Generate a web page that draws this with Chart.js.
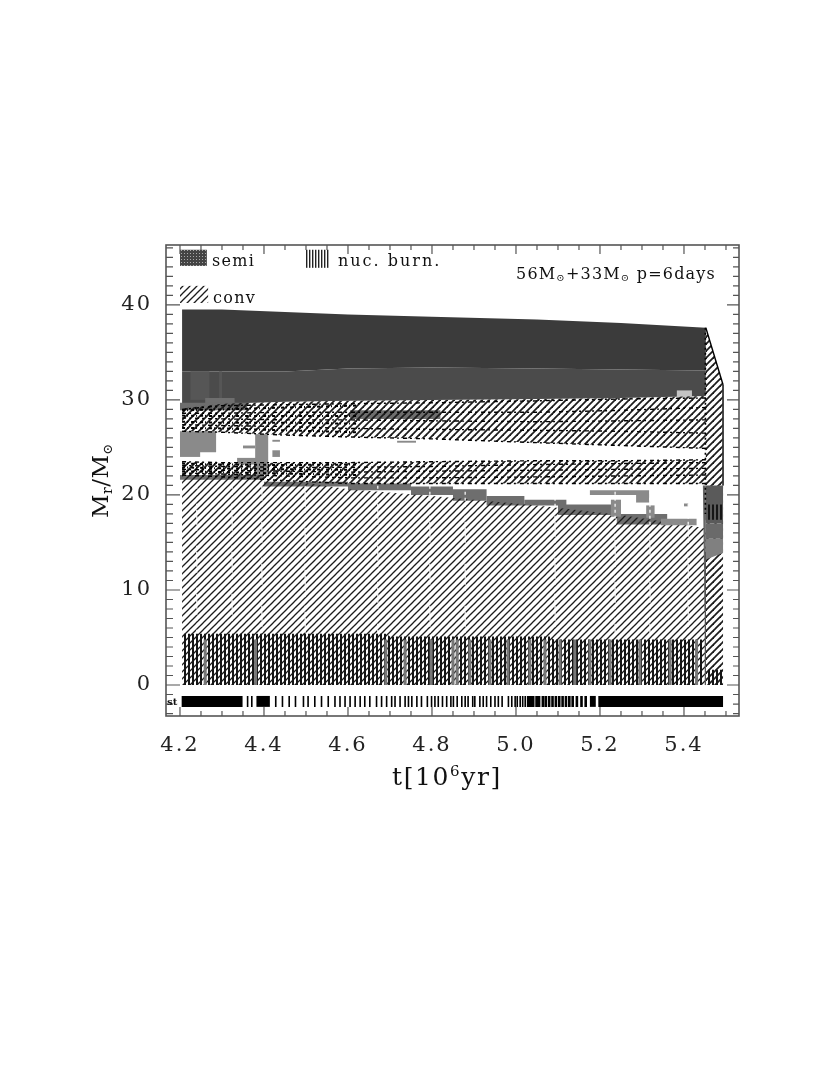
<!DOCTYPE html>
<html lang="en">
<head>
  <meta charset="UTF-8">
  <title>Kippenhahn diagram</title>
  <script src="https://cdn.jsdelivr.net/npm/chart.js"></script>
  <style>
    html, body { margin: 0; padding: 0; background: #fff; }
    canvas { display: block; }
  </style>
</head>
<body>
  <canvas id="grafico" width="830" height="1075"></canvas>

  <script>
    // axis
    const xTicks = [4.2, 4.4, 4.6, 4.8, 5.0, 5.2, 5.4];
    const yTicks = [0, 10, 20, 30, 40];
    const xRange = [4.1667, 5.531];
    const yRange = [-3.26, 46.3];

    // common time grid of the layer boundaries
    const bandTimes = [4.205, 4.30, 4.45, 4.60, 4.80, 5.05, 5.25, 5.452];
    const envelopeTop = [39.5, 39.5, 39.25, 39.0, 38.75, 38.45, 38.1, 37.6];
    const envelopeMid = [33.0, 33.0, 33.0, 33.3, 33.4, 33.3, 33.2, 33.1];
    const envelopeBottom = [29.1, 29.6, 29.8, 29.9, 30.0, 30.1, 30.2, 30.4];
    const upperBandBottom = [26.7, 26.6, 26.3, 26.1, 25.9, 25.5, 25.2, 24.9];
    const trackA = [29.0, 29.4, 29.5, 29.6, 29.7, 29.9, 30.1, 30.2];
    const trackB = [28.6, 28.6, 28.7, 28.7, 28.7, 28.7, 28.9, 29.2];
    const trackC = [28.1, 28.0, 27.9, 27.9, 27.8, 27.7, 27.8, 27.9];
    const trackD = [27.4, 27.3, 27.2, 27.0, 26.9, 26.8, 26.7, 26.5];
    const lowerBandTop = [23.5, 23.4, 23.4, 23.4, 23.5, 23.6, 23.6, 23.7];
    const trackF = [23.1, 23.0, 22.9, 22.9, 23.0, 23.2, 23.3, 23.4];
    const trackG = [22.7, 22.6, 22.5, 22.4, 22.5, 22.6, 22.7, 22.8];
    const trackH = [22.3, 22.2, 22.0, 21.8, 21.8, 21.9, 22.0, 22.1];
    const lowerBandBottom = [22.1, 21.9, 21.5, 21.2, 21.2, 21.2, 21.2, 21.2];
    const convTop = [22.2, 22.0, 21.6, 20.6, 19.9, 18.9, 17.9, 16.5];
    const coreFloor = [0, 0, 0, 0, 0, 0, 0, 0];

    // extra speckle on the left part of the bands
    const speckleTimes = [4.205, 4.30, 4.45, 4.62];
    const speckleUpper = [[28.9, 29.0, 29.2, 29.4], [28.35, 28.3, 28.3, 28.3], [27.7, 27.6, 27.6, 27.5], [27.05, 27.0, 26.8, 26.6]];
    const speckleLower = [[23.3, 23.2, 23.15, 23.2], [22.9, 22.8, 22.7, 22.65], [22.5, 22.4, 22.25, 22.1]];

    // nuclear burning
    const burnTimes = [4.205, 4.69, 4.70, 5.08, 5.09, 5.443];
    const burnTop = [5.4, 5.4, 5.1, 5.1, 4.8, 4.8];
    const burnColumns = [4.26, 4.38, 4.69, 4.736, 4.798, 4.85, 4.86, 4.89, 4.938, 4.981, 5.033, 5.069, 5.105, 5.14, 5.176, 5.224, 5.295, 5.367, 5.43];

    // last phase column
    const columnTimes = [5.452, 5.493, 5.493, 5.452];
    const columnHatch = [37.6, 31.6, 0, 0];
    const columnGrayTop = [21, 21, 17, 17];
    const columnGrayMid = [17, 17, 15.4, 15.4];
    const columnGrayLow = [15.4, 15.4, 13.9, 13.2];
    const columnBurnLow = [1.6, 1.6, 0, 0];
    const columnBurnHigh = [19, 19, 17.4, 17.4];
    const stripTimes = [5.445, 5.452, 5.452, 5.449];
    const stripValues = [21, 21, 7.9, 7.9];

    // grey semi-convective patches, [t0, t1, m0, m1]
    const patchDark = [
      [4.26, 4.33, 29.5, 30.2], [4.2, 4.36, 28.9, 29.7], [4.605, 4.82, 28.0, 28.9], [4.2, 4.4, 21.6, 22.1],
      [4.4, 4.6, 20.9, 21.4], [4.6, 4.75, 20.5, 21.2], [4.75, 4.85, 20.0, 20.9], [4.85, 4.93, 19.4, 20.6],
      [4.93, 5.02, 18.9, 19.9], [5.02, 5.12, 18.9, 19.5], [5.1, 5.24, 17.9, 19.0], [5.24, 5.36, 16.9, 18.0]
    ];
    const patchLight = [
      [4.2, 4.286, 24.5, 26.7], [4.2, 4.248, 24.0, 24.6], [4.379, 4.41, 22.1, 26.4], [4.336, 4.383, 23.2, 23.9],
      [4.42, 4.438, 24.0, 24.7], [4.35, 4.379, 24.9, 25.2], [4.42, 4.438, 25.6, 25.8], [4.717, 4.762, 25.5, 25.7],
      [5.176, 5.317, 20.0, 20.5], [5.286, 5.317, 19.2, 20.3], [5.226, 5.25, 17.7, 19.5], [5.31, 5.33, 17.6, 18.9],
      [5.40, 5.41, 18.8, 19.1], [5.345, 5.43, 16.8, 17.5]
    ];
    const patchPale = [[5.383, 5.419, 30.2, 31.0]];
    const patchStreak = [[4.225, 4.27, 30, 33], [4.293, 4.3, 30, 33]];

    // convective hatch white gaps
    const gapTimes = [4.24, 4.324, 4.395, 4.498, 4.671, 4.795, 4.879, 5.093, 5.236, 5.319, 5.41];

    // time steps strip
    const stepRange = [-2.3, -1.15];
    const stepBlocks = [[4.204, 4.349], [4.382, 4.414], [5.176, 5.19], [5.196, 5.493]];
    const stepTimes = [4.361, 4.371, 4.428, 4.444, 4.46, 4.475, 4.494, 4.505, 4.521, 4.537, 4.553, 4.569, 4.581, 4.593,
      4.605, 4.617, 4.629, 4.64, 4.652, 4.668, 4.68, 4.692, 4.704, 4.712, 4.724, 4.736, 4.744, 4.752, 4.764, 4.775,
      4.789, 4.799, 4.807, 4.815, 4.825, 4.835, 4.845, 4.851, 4.86, 4.871, 4.879, 4.886, 4.897, 4.902, 4.914, 4.922,
      4.93, 4.94, 4.95, 4.958, 4.967, 4.982, 4.99, 4.998, 5.003, 5.01, 5.016, 5.022];
    const stepTimesWide = [5.029, 5.035, 5.041, 5.049, 5.055, 5.064, 5.071, 5.079, 5.087, 5.095, 5.103, 5.111, 5.119,
      5.127, 5.135, 5.145, 5.156, 5.166];

    // legend swatches, [t0, t1, m0, m1]
    const legendSemi = [4.2, 4.264, 44.1, 45.8];
    const legendBurn = [4.5, 4.557, 43.9, 45.8];
    const legendConv = [4.2, 4.267, 40.2, 42.0];

    function patron(size, dibuja) {
      const c = document.createElement('canvas');
      c.width = size;
      c.height = size;
      dibuja(c.getContext('2d'));
      return c.getContext('2d').createPattern(c, 'repeat');
    }

    function rayado(width) {
      return patron(7, g => {
        g.strokeStyle = '#1c1c1c';
        g.lineWidth = width;
        for (const d of [-7, 0, 7]) {
          g.beginPath();
          g.moveTo(d - 1, 8);
          g.lineTo(d + 8, -1);
          g.stroke();
        }
      });
    }
    const hatch = rayado(1.25);
    const hatchBold = rayado(1.8);
    const burnLines = patron(4, g => {
      g.fillStyle = '#151515';
      g.fillRect(0, 0, 2, 4);
    });
    const legendBurnLines = patron(3, g => {
      g.fillStyle = '#222';
      g.fillRect(0, 0, 1.4, 3);
    });
    const semiDots = patron(3, g => {
      g.fillStyle = '#444';
      g.fillRect(0, 0, 3, 3);
      g.fillStyle = '#aaa';
      g.fillRect(1, 1, 1, 1);
    });

    const puntos = (xs, ys) => xs.map((x, i) => ({ x, y: ys[i] }));
    const banda = (xs, hi, lo) => puntos(xs, hi).concat(puntos(xs, lo).reverse());
    const rect = r => [{ x: r[0], y: r[2] }, { x: r[1], y: r[2] }, { x: r[1], y: r[3] }, { x: r[0], y: r[3] }];
    const rects = list => list.flatMap(r => rect(r).concat({ x: r[0], y: NaN }));
    const verticales = (ts, lo, hi) => ts.flatMap(t => [{ x: t, y: lo }, { x: t, y: hi }, { x: t, y: NaN }]);

    const capas = [];
    function relleno(data, color) {
      capas.push({ data, backgroundColor: color, borderColor: 'transparent', borderWidth: 0, fill: 'shape', pointRadius: 0 });
    }
    function linea(data, color, width, dash) {
      capas.push({ data, borderColor: color, borderWidth: width, borderDash: dash || [], borderCapStyle: 'butt', fill: false, pointRadius: 0 });
    }

    // envelope
    relleno(banda(bandTimes, envelopeTop, envelopeMid), '#3b3b3b');
    relleno(banda(bandTimes, envelopeMid, envelopeBottom), '#4b4b4b');
    relleno(rects(patchStreak), '#565656');
    relleno(rects(patchDark), '#6e6e6e');
    relleno(rects(patchPale), '#c4c4c4');

    // convective zones
    relleno(banda(bandTimes, envelopeBottom, upperBandBottom), hatchBold);
    relleno(banda(bandTimes, lowerBandTop, lowerBandBottom), hatchBold);
    relleno(banda(bandTimes, convTop, coreFloor), hatch);
    relleno(puntos(columnTimes, columnHatch), hatchBold);
    relleno(rects(patchLight), '#8a8a8a');
    relleno(puntos(columnTimes, columnGrayTop), '#5a5a5a');
    relleno(puntos(columnTimes, columnGrayMid), '#6a6a6a');
    relleno(puntos(columnTimes, columnGrayLow), '#808080');
    relleno(puntos(stripTimes, stripValues), '#666');
    linea(verticales(gapTimes, 5.5, 21), '#fff', 1.2, [3, 3]);

    // burning
    relleno(puntos(burnTimes, burnTop).concat([{ x: 5.443, y: 0 }, { x: 4.205, y: 0 }]), burnLines);
    linea(verticales(burnColumns, 0, 4.8), '#777', 3);
    relleno(puntos(columnTimes, columnBurnLow), burnLines);
    relleno(puntos(columnTimes, columnBurnHigh), burnLines);

    // speckled layer edges
    for (const track of [trackA, trackB, trackC, trackD, upperBandBottom, lowerBandTop, trackF, trackG, trackH, lowerBandBottom]) {
      linea(puntos(bandTimes, track), '#000', 1.4, [4, 3, 2, 4]);
    }
    for (const track of speckleUpper.concat(speckleLower)) {
      linea(puntos(speckleTimes, track), '#000', 2, [3, 2, 1, 3]);
    }
    linea(puntos(columnTimes.slice(0, 2), columnHatch.slice(0, 2)), '#000', 1.4);
    linea([{ x: 5.493, y: 31.6 }, { x: 5.493, y: 21 }], '#333', 1);
    linea([{ x: 5.451, y: 37.6 }, { x: 5.451, y: 18 }], '#000', 1.6, [2, 3]);
    linea([{ x: 5.451, y: 14 }, { x: 5.451, y: 0 }], '#555', 1);

    // time steps
    relleno(rects(stepBlocks.map(b => [b[0], b[1], stepRange[0], stepRange[1]])), '#000');
    linea(verticales(stepTimes, stepRange[0], stepRange[1]), '#000', 1.6);
    linea(verticales(stepTimesWide, stepRange[0], stepRange[1]), '#000', 2.6);

    // legend
    relleno(rect(legendSemi), semiDots);
    relleno(rect(legendBurn), legendBurnLines);
    relleno(rect(legendConv), hatch);

    // text and inward ticks
    const texto = {
      id: 'texto',
      beforeDraw(chart) {
        chart.ctx.letterSpacing = '2px';
      },
      afterDraw(chart) {
        const { ctx, chartArea: a, scales: { x, y } } = chart;
        ctx.letterSpacing = '0px';
        ctx.save();
        ctx.strokeStyle = '#555';
        ctx.lineWidth = 1.6;
        ctx.strokeRect(a.left, a.top, a.right - a.left, a.bottom - a.top);
        ctx.lineWidth = 1.2;
        ctx.beginPath();
        for (let i = 0; i <= 28; i++) {
          const v = 4.15 + i * 0.05;
          const p = x.getPixelForValue(v);
          if (p <= a.left || p >= a.right) continue;
          const len = (i - 1) % 4 === 0 ? 9 : 5;
          ctx.moveTo(p, a.bottom); ctx.lineTo(p, a.bottom - len);
          ctx.moveTo(p, a.top); ctx.lineTo(p, a.top + len);
        }
        for (let v = -3; v <= 46; v++) {
          const p = y.getPixelForValue(v);
          const mayor = v % 10 === 0;
          ctx.moveTo(a.left, p); ctx.lineTo(a.left + (mayor ? 14 : 7), p);
          ctx.moveTo(a.right, p); ctx.lineTo(a.right - (mayor ? 12 : 6), p);
        }
        ctx.stroke();

        const serif = '"DejaVu Serif", serif';
        ctx.fillStyle = '#111';
        ctx.textBaseline = 'alphabetic';
        ctx.textAlign = 'left';
        ctx.letterSpacing = '1.3px';
        ctx.font = `16px ${serif}`;
        ctx.fillText('semi', 212, 266);
        ctx.letterSpacing = '2px';
        ctx.fillText('nuc. burn.', 338, 266);
        ctx.letterSpacing = '1.3px';
        ctx.fillText('conv', 213, 303);
        ctx.letterSpacing = '0px';
        ctx.font = `bold 10px ${serif}`;
        ctx.fillText('st', 167, 705);

        const trozos = (parts, px, py, gap) => {
          let cx = px;
          ctx.letterSpacing = gap + 'px';
          for (const [s, size, dy] of parts) {
            ctx.font = `${size}px ${serif}`;
            ctx.fillText(s, cx, py + dy);
            cx += ctx.measureText(s).width;
          }
          ctx.letterSpacing = '0px';
        };
        trozos([['56M', 16, 0], ['⊙', 10, 2], ['+33M', 16, 0], ['⊙', 10, 2], [' p=6days', 16, 0]], 516, 279, 1.2);
        trozos([['t[10', 25, 0], ['6', 15, -9], ['yr]', 25, 0]], 392, 785, 1.6);

        ctx.save();
        ctx.translate(108, 518);
        ctx.rotate(-Math.PI / 2);
        trozos([['M', 23, 0], ['r', 14, 4], ['/M', 23, 0], ['⊙', 13, 4]], 0, 0, 0.5);
        ctx.restore();
        ctx.restore();
      }
    };

    new Chart(document.getElementById('grafico'), {
      type: 'line',
      data: { datasets: capas.reverse() },
      plugins: [texto],
      options: {
        responsive: false,
        animation: false,
        spanGaps: false,
        layout: { padding: { top: 245, right: 91, left: 0, bottom: 0 } },
        plugins: { legend: { display: false }, tooltip: { enabled: false } },
        scales: {
          x: {
            type: 'linear',
            min: xRange[0],
            max: xRange[1],
            afterFit: s => { s.height = 359; },
            afterBuildTicks: s => { s.ticks = xTicks.map(value => ({ value })); },
            grid: { display: false },
            border: { display: false },
            ticks: {
              autoSkip: false,
              maxRotation: 0,
              padding: 9,
              color: '#222',
              font: { family: '"DejaVu Serif", serif', size: 21 },
              callback: v => v.toFixed(1)
            }
          },
          y: {
            type: 'linear',
            min: yRange[0],
            max: yRange[1],
            afterFit: s => { s.width = 166; },
            afterBuildTicks: s => { s.ticks = yTicks.map(value => ({ value })); },
            grid: { display: false },
            border: { display: false },
            ticks: {
              padding: 6,
              color: '#222',
              font: { family: '"DejaVu Serif", serif', size: 21 },
              callback: v => String(v)
            }
          }
        }
      }
    });
  </script>
</body>
</html>
